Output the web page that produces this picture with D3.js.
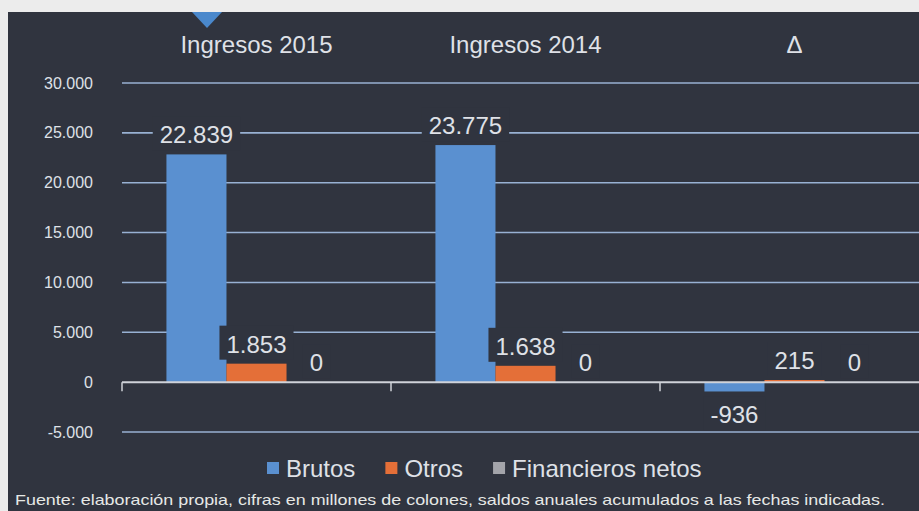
<!DOCTYPE html>
<html>
<head>
	<meta charset="utf-8" />
	<title>Ingresos 2015 - 2014</title>
	<script type="text/javascript" src="https://cdn.jsdelivr.net/npm/d3@7/dist/d3.min.js" charset="utf-8"></script>
	<style>
		body { margin: 0; background: #ececec; }
		svg text { font-family: "Liberation Sans", Arial, sans-serif; }
	</style>
</head>
<body>

<div id="chart">
	<svg></svg>
</div>

<script type="text/javascript">
/* data */
var categories = ["Ingresos 2015", "Ingresos 2014", "\u0394"];
var series     = ["Brutos", "Otros", "Financieros netos"];
var brutos     = [22839, 23775, -936];
var otros      = [1853, 1638, 215];
var financieros = [0, 0, 0];
var yTicks     = [-5000, 0, 5000, 10000, 15000, 20000, 25000, 30000];
var fuente     = "Fuente: elaboración propia, cifras en millones de colones, saldos anuales acumulados a las fechas indicadas.";

var colors = { "Brutos": "#5a90d0", "Otros": "#e46f38", "Financieros netos": "#a3a4aa" };
var panel  = "#30343f",
    light  = "#dfe1e7",
    grid   = "#98b1d3";

var width  = 919,
    height = 511;

// spanish style numbers, plain hyphen for negatives
var fmt = d3.formatLocale({ decimal: ",", thousands: ".", grouping: [3], currency: ["", ""], minus: "-" }).format(",d");

var rows = [];
categories.forEach(function(c, i) {
	rows.push({ cat: c, values: [
		{ key: "Brutos", value: brutos[i] },
		{ key: "Otros", value: otros[i] },
		{ key: "Financieros netos", value: financieros[i] }
	]});
});

var svg = d3.select('#chart > svg')
		.attr("width", width)
		.attr("height", height);

// dark panel + little marker on top
svg.append("rect")
	.attr("x", 8).attr("y", 12)
	.attr("width", width - 8).attr("height", height - 12)
	.attr("fill", panel);
svg.append("path")
	.attr("d", "M192,12 L222,12 L207,28 Z")
	.attr("fill", "#4a88cc");

var x = d3.scaleBand()
	.domain(categories)
	.range([122, 929]);

var x1 = d3.scaleBand()
	.domain(series)
	.range([0, x.bandwidth()])
	.paddingOuter(0.74);

var y = d3.scaleLinear()
	.domain([-5000, 30000])
	.range([432, 83]);

// gridlines
svg.append("g")
	.selectAll("line")
	.data(yTicks.filter(function(t) { return t !== 0; }))
	.join("line")
		.attr("x1", 122).attr("x2", width)
		.attr("y1", function(d) { return y(d); })
		.attr("y2", function(d) { return y(d); })
		.attr("stroke", grid)
		.attr("stroke-width", 1.6);

// y axis labels
var yAxis = d3.axisLeft(y)
	.tickValues(yTicks)
	.tickFormat(fmt)
	.tickSize(0)
	.tickPadding(0);

svg.append("g")
	.attr("transform", "translate(93,0)")
	.call(yAxis)
	.call(function(g) { g.select(".domain").remove(); })
	.selectAll("text")
		.attr("fill", light)
		.attr("font-size", "16px")
		.attr("font-family", "Liberation Sans, Arial, sans-serif");

// category titles on top
svg.append("g")
	.selectAll("text")
	.data(categories)
	.join("text")
		.attr("x", function(d) { return x(d) + x.bandwidth() / 2; })
		.attr("y", 53)
		.attr("text-anchor", "middle")
		.attr("fill", light)
		.attr("font-size", "24px")
		.text(function(d) { return d; });

// bars
var groups = svg.append("g")
	.selectAll("g")
	.data(rows)
	.join("g")
		.attr("transform", function(d) { return "translate(" + x(d.cat) + ",0)"; });

groups.selectAll("rect")
	.data(function(d) { return d.values; })
	.join("rect")
		.attr("x", function(d) { return x1(d.key); })
		.attr("width", x1.bandwidth())
		.attr("y", function(d) { return y(Math.max(0, d.value)); })
		.attr("height", function(d) { return Math.abs(y(d.value) - y(0)); })
		.attr("fill", function(d) { return colors[d.key]; });

// zero line with category ticks
var zero = svg.append("g");
zero.append("line")
	.attr("x1", 122).attr("x2", width)
	.attr("y1", y(0)).attr("y2", y(0))
	.attr("stroke", "#cfd2d9")
	.attr("stroke-width", 2);
zero.selectAll(".tick")
	.data(categories)
	.join("line")
		.attr("class", "tick")
		.attr("x1", function(d) { return x(d); })
		.attr("x2", function(d) { return x(d); })
		.attr("y1", y(0)).attr("y2", y(0) + 9)
		.attr("stroke", "#cfd2d9")
		.attr("stroke-width", 1.5);

// data labels, each with a dark box behind
var labels = groups.selectAll("g.label")
	.data(function(d) { return d.values; })
	.join("g")
		.attr("class", "label");

labels.append("rect").attr("fill", panel);
labels.append("text")
	.attr("x", function(d) { return x1(d.key) + x1.bandwidth() / 2; })
	.attr("y", function(d) { return d.value < 0 ? y(d.value) + 32 : y(d.value) - 11; })
	.attr("text-anchor", "middle")
	.attr("fill", light)
	.attr("font-size", "24px")
	.text(function(d) { return fmt(d.value); });

labels.each(function() {
	var g = d3.select(this);
	var b = g.select("text").node().getBBox();
	g.select("rect")
		.attr("x", b.x - 7).attr("y", b.y - 5)
		.attr("width", b.width + 14).attr("height", b.height + 7);
});

// legend
var legend = svg.append("g").attr("transform", "translate(267,0)");
var lx = 0;
series.forEach(function(s) {
	var item = legend.append("g").attr("transform", "translate(" + lx + ",0)");
	item.append("rect")
		.attr("x", 0).attr("y", 462)
		.attr("width", 12).attr("height", 12)
		.attr("fill", colors[s]);
	var t = item.append("text")
		.attr("x", 19).attr("y", 477)
		.attr("fill", light)
		.attr("font-size", "24px")
		.text(s);
	lx += 19 + t.node().getComputedTextLength() + 30;
});

// source note
svg.append("text")
	.attr("x", 15).attr("y", 505)
	.attr("fill", "#e6e8e6")
	.attr("font-size", "15px")
	.attr("textLength", 870)
	.attr("lengthAdjust", "spacingAndGlyphs")
	.text(fuente);

</script>
</body>
</html>
